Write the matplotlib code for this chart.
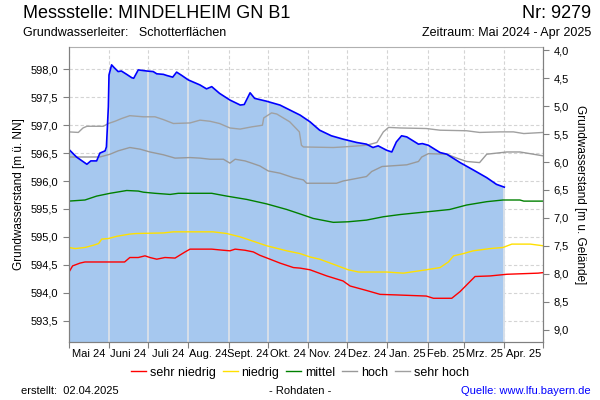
import numpy as np
import matplotlib
matplotlib.use('Agg')
import matplotlib.pyplot as plt
from matplotlib.ticker import FixedLocator, FuncFormatter

plt.rcParams['font.family'] = ['Liberation Sans', 'DejaVu Sans']

start = np.datetime64('2024-05-01')
ground = 602.34  # Gelaendehoehe [m ue. NN]

month_labels = ['Mai 24', 'Juni 24', 'Juli 24', 'Aug. 24', 'Sept. 24', 'Okt. 24',
                'Nov. 24', 'Dez. 24', 'Jan. 25', 'Feb. 25', 'Mrz. 25', 'Apr. 25']

# Messwerte (Tage ab 01.05.2024)
mess_days = [0, 6, 14, 17, 21.5, 24, 28, 29, 30.5, 31, 33, 35, 38, 40.5, 44.6, 48.5, 50,
             53.5, 60, 65, 67.7, 72.8, 75.4, 80, 83, 87, 92, 101, 106, 110, 116, 124, 132,
             135, 139.5, 143, 152, 162.5, 172.8, 178, 185.6, 193, 202, 211, 221.5, 229,
             234, 238, 244.6, 248.5, 252, 256, 260, 269, 272, 276.6, 285.6, 290.8, 301,
             311, 321.5, 329, 335]
mess_vals = [596.57, 596.43, 596.30, 596.36, 596.36, 596.50, 596.54, 596.61, 597.33, 597.90,
             598.08, 598.03, 597.96, 597.97, 597.91, 597.85, 597.84, 597.99, 597.97, 597.96,
             597.92, 597.91, 597.89, 597.86, 597.95, 597.89, 597.81, 597.72, 597.65, 597.69,
             597.57, 597.45, 597.36, 597.37, 597.58, 597.48, 597.43, 597.36, 597.24, 597.18,
             597.06, 596.91, 596.81, 596.75, 596.69, 596.66, 596.60, 596.63, 596.55, 596.52,
             596.70, 596.81, 596.79, 596.66, 596.67, 596.64, 596.51, 596.48, 596.33, 596.20,
             596.06, 595.94, 595.89]

# Kennwerte
sh_days = [0, 7.4, 11, 14, 26.6, 30.5, 35.6, 40.8, 47, 57.4, 66.4, 72.8, 80.5, 93.3, 101,
           108.7, 116, 124, 131.8, 140.8, 146.6, 149, 150, 156, 160, 170, 177.4, 179, 180.5,
           203.5, 211, 229, 237, 242, 246, 255, 275, 285.6, 306, 316, 332, 342, 350, 365]
sh_vals = [596.88, 596.87, 596.95, 596.98, 596.98, 597.03, 597.07, 597.12, 597.17, 597.15,
           597.15, 597.10, 597.03, 597.04, 597.09, 597.07, 597.03, 596.95, 596.93, 596.97,
           596.99, 597.00, 597.13, 597.22, 597.20, 597.06, 596.88, 596.64, 596.61, 596.60,
           596.61, 596.64, 596.69, 596.88, 596.96, 596.95, 596.94, 596.91, 596.90, 596.87,
           596.88, 596.88, 596.85, 596.87]

h_days = [0, 24, 31.8, 38, 47, 55, 62.5, 72.8, 81.8, 93.3, 101, 108.7, 119, 124, 128, 135.6,
          140.8, 147, 153.5, 162.5, 172.8, 180.5, 183, 206, 211, 229, 233, 241, 260, 269,
          271.5, 276.6, 290.8, 298.5, 306, 316, 321.5, 337, 347, 357.4, 365]
h_vals = [596.43, 596.43, 596.48, 596.54, 596.60, 596.57, 596.52, 596.47, 596.41, 596.42,
          596.41, 596.39, 596.39, 596.32, 596.39, 596.36, 596.32, 596.27, 596.18, 596.14,
          596.06, 596.02, 595.96, 595.96, 596.00, 596.08, 596.17, 596.26, 596.29, 596.35,
          596.43, 596.49, 596.48, 596.41, 596.35, 596.33, 596.48, 596.52, 596.52, 596.48,
          596.45]

m_days = [0, 12.5, 21.5, 31.8, 44.6, 53.5, 57.4, 66.4, 78, 84.3, 110, 121.5, 137, 152.3,
          167.7, 178, 188, 203.5, 215, 229, 242, 255, 267.7, 280.5, 293, 306, 321.5, 334,
          347, 350, 365]
m_vals = [595.64, 595.66, 595.73, 595.78, 595.83, 595.82, 595.80, 595.78, 595.76, 595.78,
          595.78, 595.73, 595.67, 595.59, 595.49, 595.41, 595.33, 595.26, 595.27, 595.30,
          595.36, 595.40, 595.43, 595.46, 595.49, 595.57, 595.63, 595.66, 595.66, 595.64,
          595.64]

n_days = [0, 5, 12.5, 19, 23, 25.4, 30.5, 37, 47, 52, 72.8, 80.5, 111, 121.5, 131.8, 139.5,
          152.3, 167.7, 178, 185.6, 193, 203.5, 215, 223, 244.6, 257.4, 275, 285.6, 292, 296,
          303.5, 311, 324, 334, 340.8, 355, 365]
n_vals = [594.81, 594.79, 594.81, 594.85, 594.88, 594.96, 594.97, 595.01, 595.05, 595.06,
          595.07, 595.09, 595.09, 595.06, 595.00, 594.94, 594.84, 594.75, 594.70, 594.64,
          594.60, 594.51, 594.41, 594.37, 594.37, 594.35, 594.41, 594.45, 594.55, 594.66,
          594.70, 594.75, 594.79, 594.81, 594.87, 594.87, 594.84]

sn_days = [0, 3, 8.7, 12.5, 43, 47, 53.5, 58.7, 62.5, 67.7, 74, 81.8, 89.5, 93.3, 110, 119,
           124, 128, 135.6, 142, 147, 154.8, 162.5, 172.8, 178, 185.6, 198.5, 211, 216.4,
           229, 239.5, 252, 275, 280.5, 294.6, 301, 312.5, 324, 337, 361, 365]
sn_vals = [594.36, 594.48, 594.53, 594.55, 594.55, 594.63, 594.63, 594.66, 594.63, 594.60,
           594.63, 594.62, 594.73, 594.78, 594.78, 594.76, 594.75, 594.78, 594.76, 594.73,
           594.67, 594.60, 594.53, 594.45, 594.44, 594.41, 594.30, 594.21, 594.12, 594.04,
           593.97, 593.96, 593.94, 593.90, 593.90, 594.02, 594.29, 594.30, 594.33, 594.35,
           594.36]

# Monatsgrenzen
months = np.arange(np.datetime64('2024-05'), np.datetime64('2025-06'))
month_starts = (months.astype('datetime64[D]') - start).astype(int)
month_mids = (month_starts[:-1] + month_starts[1:]) / 2

ylo, yhi = 593.117, 598.40

fig = plt.figure(figsize=(6, 4), dpi=100)
ax = fig.add_axes([0.1145, 0.145, 0.791, 0.7375])

grid_col = '#d4d4d4'
ax.set_axisbelow(True)
ax.grid(True, axis='y', color=grid_col, linestyle=(0, (3, 2)), linewidth=0.8, zorder=0)
ax.grid(True, axis='x', which='major', color=grid_col, linestyle=(0, (3, 2)),
        linewidth=0.8, zorder=0)

ax.fill_between(mess_days, mess_vals, ylo, color='#a6c8ef', linewidth=0, zorder=1)

# helle Monatslinien in der Flaeche
inside = [d for d in month_starts if 0 < d <= mess_days[-1]]
ax.vlines(inside, ylo, np.interp(inside, mess_days, mess_vals), color='#dfe3e8',
          linewidth=1.2, zorder=1.5)

ax.plot(sh_days, sh_vals, color='#a0a0a0', lw=1.0, zorder=2)
ax.plot(h_days, h_vals, color='#999999', lw=1.0, zorder=2)
ax.plot(m_days, m_vals, color='#008000', lw=1.0, zorder=2)
ax.plot(n_days, n_vals, color='#ffe000', lw=1.0, zorder=2)
ax.plot(sn_days, sn_vals, color='#ff0000', lw=1.0, zorder=2)
ax.plot(mess_days, mess_vals, color='#0000ff', lw=1.2, zorder=3)

ax.set_xlim(0, month_starts[-1])
ax.set_ylim(ylo, yhi)

comma = FuncFormatter(lambda v, p: f'{v:.1f}'.replace('.', ','))
ax.yaxis.set_major_locator(FixedLocator(np.arange(593.5, 598.01, 0.5)))
ax.yaxis.set_major_formatter(comma)
ax.xaxis.set_major_locator(FixedLocator(month_starts))
ax.xaxis.set_major_formatter(FuncFormatter(lambda v, p: ''))
ax.xaxis.set_minor_locator(FixedLocator(month_mids))
ax.xaxis.set_minor_formatter(FuncFormatter(lambda v, p: month_labels[p] if p < len(month_labels) else ''))
ax.tick_params(axis='x', which='major', length=4, color='#808080')
ax.tick_params(axis='x', which='minor', length=0, labelsize=8, pad=5)
ax.tick_params(axis='y', length=4, color='#808080', labelsize=8)

for s in ['left', 'bottom', 'right']:
    ax.spines[s].set_color('#808080')
ax.spines['top'].set_color('#b0b0b0')

ax.set_ylabel('Grundwasserstand [m ü. NN]', fontsize=8.5, labelpad=4)

ax2 = ax.twinx()
ax2.set_ylim(ground - ylo, ground - yhi)
ax2.yaxis.set_major_locator(FixedLocator(np.arange(4.0, 9.01, 0.5)))
ax2.yaxis.set_major_formatter(comma)
ax2.tick_params(axis='y', length=4, color='#808080', labelsize=8)
for s in ['left', 'bottom', 'right', 'top']:
    ax2.spines[s].set_color('#808080')
ax2.spines['top'].set_visible(False)
ax2.set_ylabel('Grundwasserstand [m u. Gelände]', fontsize=8.5, rotation=270, labelpad=12)

# Legende
legend_names = ['sehr niedrig', 'niedrig', 'mittel', 'hoch', 'sehr hoch']
legend_cols = ['#ff0000', '#ffe000', '#008000', '#999999', '#a0a0a0']
handles = [plt.Line2D([], [], color=c, lw=1.0) for c in legend_cols]
fig.legend(handles, legend_names, loc='center', bbox_to_anchor=(0.5, 0.068), ncol=5,
           frameon=False, fontsize=9, handlelength=1.2, handletextpad=0.3,
           columnspacing=0.55)

fig.text(0.038, 0.965, 'Messstelle: MINDELHEIM GN B1', fontsize=13, va='center', ha='left')
fig.text(0.985, 0.965, 'Nr: 9279', fontsize=13, va='center', ha='right')
fig.text(0.038, 0.917, 'Grundwasserleiter:   Schotterflächen', fontsize=9, va='center',
         ha='left')
fig.text(0.985, 0.917, 'Zeitraum: Mai 2024 - Apr 2025', fontsize=9, va='center', ha='right')
fig.text(0.035, 0.022, 'erstellt:  02.04.2025', fontsize=8, va='center', ha='left')
fig.text(0.5, 0.022, '- Rohdaten -', fontsize=8, va='center', ha='center')
fig.text(0.985, 0.022, 'Quelle: www.lfu.bayern.de', fontsize=8, va='center', ha='right',
         color='#0000ff')

fig.savefig('out.png', dpi=100)
